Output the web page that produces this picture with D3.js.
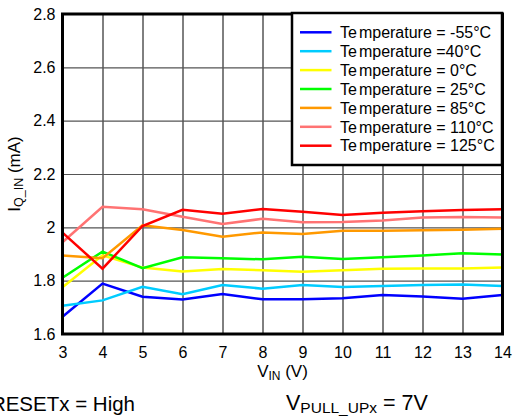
<!DOCTYPE html>
<html>
<head>
<meta charset="utf-8">
<script src="https://cdn.jsdelivr.net/npm/d3@7"></script>
<style>
  body { margin: 0; background: #fff; }
  svg { display: block; font-family: "Liberation Sans", Arial, sans-serif; }
</style>
</head>
<body>
<svg id="chart"></svg>
<script>
// input voltage (V)
var vin = [3, 4, 5, 6, 7, 8, 9, 10, 11, 12, 13, 14];
var xTicks = [3, 4, 5, 6, 7, 8, 9, 10, 11, 12, 13, 14];
var yTicks = [1.6, 1.8, 2, 2.2, 2.4, 2.6, 2.8];

var legendLabels = [
  "Temperature = -55\u00b0C",
  "Temperature =40\u00b0C",
  "Temperature = 0\u00b0C",
  "Temperature = 25\u00b0C",
  "Temperature = 85\u00b0C",
  "Temperature = 110\u00b0C",
  "Temperature = 125\u00b0C"
];
var colors = ["#0000ff", "#00ccff", "#ffff00", "#00ff00", "#ff9900", "#ff7373", "#ff0000"];

// IQ_IN (mA) per temperature
var iqM55 = [1.665, 1.789, 1.740, 1.729, 1.750, 1.730, 1.730, 1.734, 1.746, 1.741, 1.732, 1.746];
var iqM40 = [1.706, 1.726, 1.777, 1.749, 1.784, 1.770, 1.784, 1.776, 1.780, 1.784, 1.786, 1.780];
var iq0   = [1.775, 1.895, 1.849, 1.834, 1.844, 1.839, 1.833, 1.839, 1.845, 1.846, 1.846, 1.849];
var iq25  = [1.811, 1.909, 1.847, 1.888, 1.884, 1.880, 1.890, 1.881, 1.888, 1.894, 1.903, 1.898];
var iq85  = [1.894, 1.884, 2.008, 1.990, 1.965, 1.981, 1.975, 1.987, 1.987, 1.989, 1.991, 1.995];
var iq110 = [1.944, 2.077, 2.068, 2.040, 2.013, 2.032, 2.019, 2.020, 2.026, 2.037, 2.039, 2.037];
var iq125 = [1.980, 1.845, 2.005, 2.066, 2.051, 2.069, 2.058, 2.046, 2.055, 2.060, 2.065, 2.068];

var series = [iqM55, iqM40, iq0, iq25, iq85, iq110, iq125];

var W = 513, H = 420;
var margin = {top: 14, left: 62.5},
    width = 440,
    height = 320;

var svg = d3.select("#chart").attr("width", W).attr("height", H);
var g = svg.append("g").attr("transform", "translate(" + margin.left + "," + margin.top + ")");

var x = d3.scaleLinear().domain([3, 14]).range([0, width]);
var y = d3.scaleLinear().domain([1.6, 2.8]).range([height, 0]);

// grid
g.append("g")
  .attr("class", "xgrid")
  .call(d3.axisBottom(x).tickValues(xTicks).tickSize(height).tickFormat(""))
  .call(function(s) { s.select(".domain").remove(); })
  .selectAll("line").attr("stroke", "#000").attr("stroke-width", 1);

g.append("g")
  .attr("class", "ygrid")
  .call(d3.axisLeft(y).tickValues(yTicks).tickSize(-width).tickFormat(""))
  .call(function(s) { s.select(".domain").remove(); })
  .selectAll("line").attr("stroke", "#555").attr("stroke-width", 1.2);

// tick labels
g.append("g")
  .attr("transform", "translate(0," + height + ")")
  .call(d3.axisBottom(x).tickValues(xTicks).tickSize(0).tickPadding(12.5).tickFormat(d3.format("d")))
  .call(function(s) { s.select(".domain").remove(); })
  .selectAll("text").attr("font-size", 16).attr("fill", "#000").attr("font-family", null);

g.append("g")
  .call(d3.axisLeft(y).tickValues(yTicks).tickSize(0).tickPadding(7).tickFormat(function(d) { return String(+d.toFixed(1)); }))
  .call(function(s) { s.select(".domain").remove(); })
  .selectAll("text").attr("font-size", 16).attr("fill", "#000").attr("font-family", null);

// lines
var line = d3.line()
  .x(function(d, i) { return x(vin[i]); })
  .y(function(d) { return y(d); });

g.append("g").selectAll("path")
  .data(series)
  .enter()
  .append("path")
  .attr("d", line)
  .attr("fill", "none")
  .attr("stroke", function(d, i) { return colors[i]; })
  .attr("stroke-width", 2.5)
  .attr("stroke-linejoin", "miter");

// frame
g.append("rect")
  .attr("width", width)
  .attr("height", height)
  .attr("fill", "none")
  .attr("stroke", "#000")
  .attr("stroke-width", 3);

// legend
var legend = svg.append("g").attr("transform", "translate(292,13)");
legend.append("rect")
  .attr("width", 210)
  .attr("height", 152)
  .attr("fill", "#fff")
  .attr("stroke", "#000")
  .attr("stroke-width", 2.5);

var item = legend.selectAll("g.item")
  .data(legendLabels)
  .enter()
  .append("g")
  .attr("class", "item")
  .attr("transform", function(d, i) { return "translate(0," + (19.3 + i * 18.9) + ")"; });

item.append("line")
  .attr("x1", 8).attr("x2", 39.5)
  .attr("stroke", function(d, i) { return colors[i]; })
  .attr("stroke-width", 2.5);

var lt = item.append("text")
  .attr("x", 48)
  .attr("dy", "0.36em")
  .attr("font-size", 16);
lt.append("tspan").text("Te");
lt.append("tspan").attr("dx", 2).text(function(d) { return d.slice(2); });

// axis titles
var xt = svg.append("text")
  .attr("x", margin.left + width / 2)
  .attr("y", 377)
  .attr("text-anchor", "middle")
  .attr("font-size", 17);
xt.append("tspan").text("V");
xt.append("tspan").attr("font-size", 12).attr("dy", 3).text("IN");
xt.append("tspan").attr("dy", -3).text(" (V)");

var yt = svg.append("text")
  .attr("transform", "translate(19.5,174) rotate(-90)")
  .attr("text-anchor", "middle")
  .attr("font-size", 17);
yt.append("tspan").text("I");
yt.append("tspan").attr("font-size", 12.5).attr("dy", 3).text("Q_IN");
yt.append("tspan").attr("dy", -3).text(" (mA)");

// conditions
svg.append("text")
  .attr("x", 135)
  .attr("y", 411)
  .attr("text-anchor", "end")
  .attr("font-size", 20.5)
  .text("RESETx = High");

var vp = svg.append("text")
  .attr("x", 286)
  .attr("y", 410)
  .attr("font-size", 21.5);
vp.append("tspan").text("V");
vp.append("tspan").attr("font-size", 15.5).attr("dy", 3).text("PULL_UPx");
vp.append("tspan").attr("dy", -3).text(" = 7V");
</script>
</body>
</html>
